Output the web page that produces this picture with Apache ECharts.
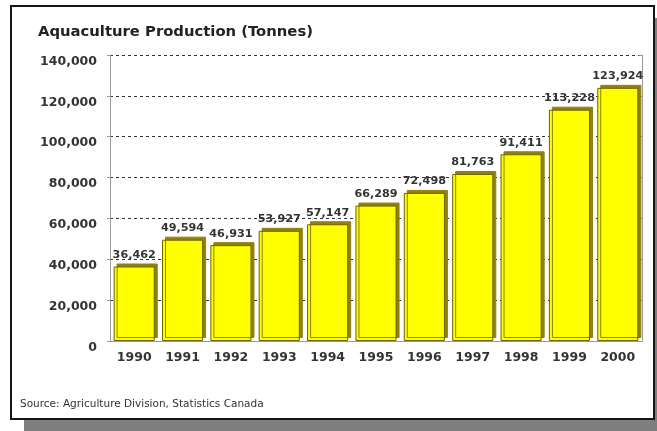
<!DOCTYPE html>
<html>
<head>
<meta charset="utf-8">
<script src="https://cdn.jsdelivr.net/npm/echarts@6/dist/echarts.min.js"></script>
<style>
  body { margin: 0; background: #fff; }
  #frame {
    position: absolute; left: 10px; top: 5px; width: 641px; height: 411px;
    border: 2px solid #151515; background: #fff;
    box-shadow: 14px 13px 0 #7f7f7f;
  }
  #chart { position: absolute; left: 0; top: 0; width: 657px; height: 431px; }
</style>
</head>
<body>
<div id="frame"></div>
<div id="chart"></div>
<script>
// data
const years = ['1990', '1991', '1992', '1993', '1994', '1995', '1996', '1997', '1998', '1999', '2000'];
const tonnes = [36462, 49594, 46931, 53927, 57147, 66289, 72498, 81763, 91411, 113228, 123924];

const chart = echarts.init(document.getElementById('chart'));

const option = {
  backgroundColor: 'transparent',
  animation: false,
  title: {
    text: 'Aquaculture Production (Tonnes)',
    left: 33, top: 20,
    textStyle: { fontFamily: 'DejaVu Sans', fontWeight: 'bold', fontSize: 14.8, color: '#222' }
  },
  graphic: [{
    type: 'text', left: 20, top: 399,
    style: { text: 'Source: Agriculture Division, Statistics Canada', fontFamily: 'DejaVu Sans', fontSize: 10.5, fill: '#333' }
  }],
  grid: { left: 110, right: 15, top: 55, bottom: 90 },
  xAxis: {
    type: 'category',
    data: years,
    axisLine: { lineStyle: { color: '#999' } },
    axisTick: { show: false },
    axisLabel: { fontFamily: 'DejaVu Sans', fontWeight: 'bold', fontSize: 12.5, color: '#333', margin: 10 }
  },
  yAxis: [{
    type: 'value', min: 0, max: 140000, interval: 20000,
    axisLine: { show: true, lineStyle: { color: '#999' } },
    axisTick: { show: true, length: 3, lineStyle: { color: '#999' } },
    axisLabel: {
      fontFamily: 'DejaVu Sans', fontWeight: 'bold', fontSize: 12.5, color: '#333', margin: 13,
      verticalAlign: 'top',
      formatter: v => v.toLocaleString('en-US')
    },
    splitLine: { lineStyle: { color: '#333', type: [3, 3], width: 1 } }
  }, {
    type: 'value', min: 0, max: 140000, interval: 20000, position: 'right',
    axisLine: { show: true, lineStyle: { color: '#999' } },
    axisTick: { show: true, inside: true, length: 3, lineStyle: { color: '#999' } },
    axisLabel: { show: false },
    splitLine: { show: false }
  }],
  series: [{
    type: 'bar',
    data: tonnes,
    barCategoryGap: '15%',
    itemStyle: {
      color: '#ffff00',
      borderColor: '#6e6400',
      borderWidth: 1,
      shadowColor: '#8f8010',
      shadowOffsetX: 3,
      shadowOffsetY: -3,
      shadowBlur: 0
    },
    label: {
      show: true, position: 'top', distance: 6,
      fontFamily: 'DejaVu Sans', fontWeight: 'bold', fontSize: 11.2, color: '#333',
      formatter: p => p.value.toLocaleString('en-US')
    }
  }]
};

chart.setOption(option);
</script>
</body>
</html>
